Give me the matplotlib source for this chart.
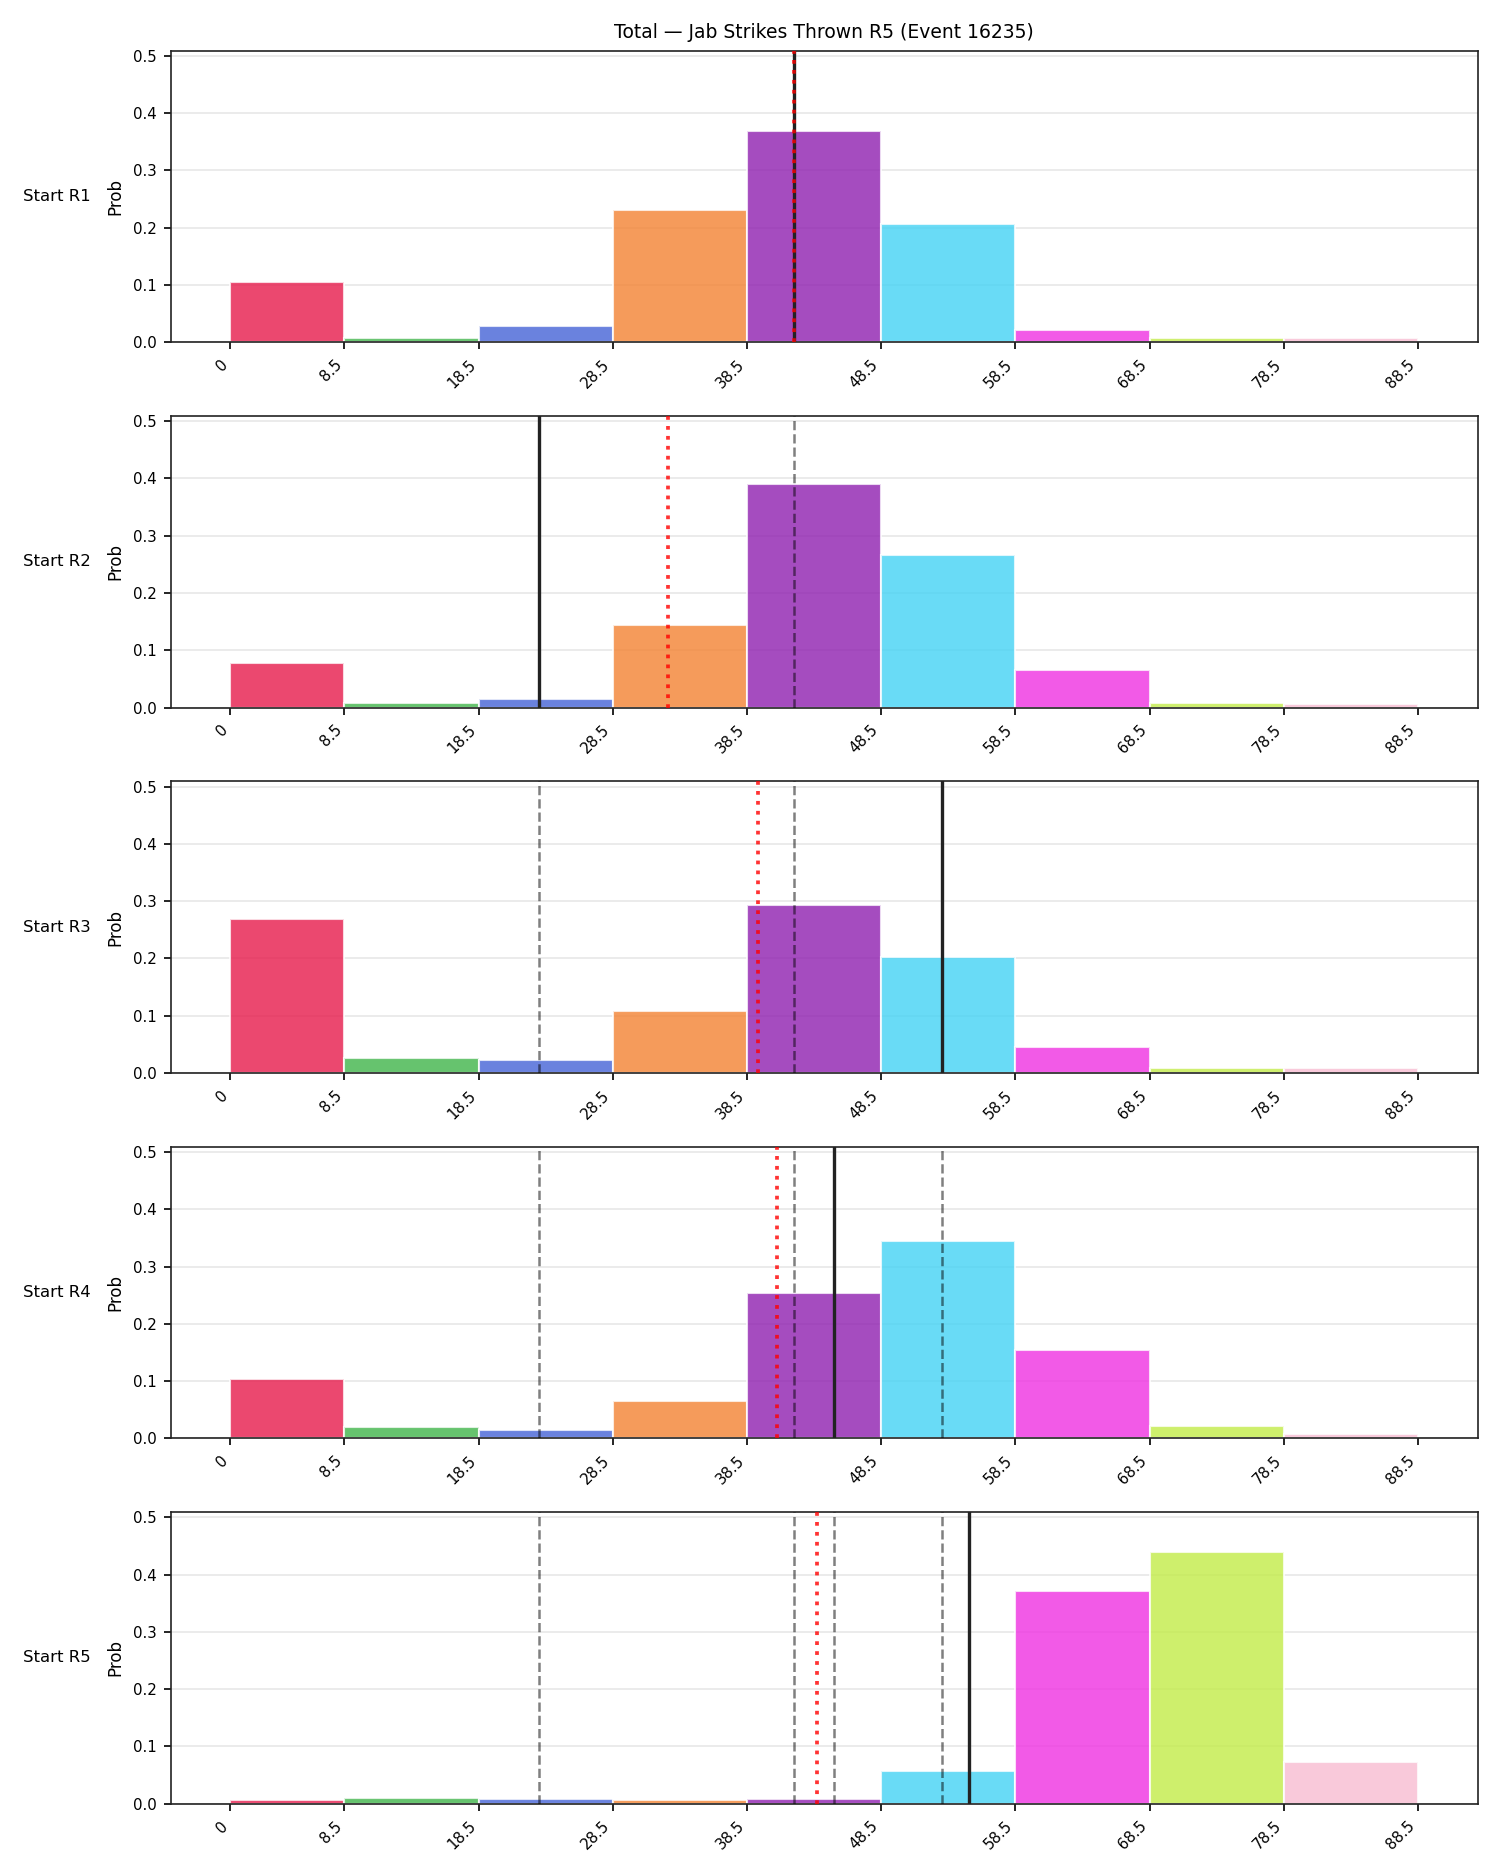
import numpy as np
import matplotlib
matplotlib.use("Agg")
import matplotlib.pyplot as plt

# bin edges and bar colours
bin_edges = [0, 8.5, 18.5, 28.5, 38.5, 48.5, 58.5, 68.5, 78.5, 88.5]
bin_colors = ['#E61A4B', '#40B54A', '#4563D6', '#F38232', '#8F1FAF',
              '#44D2F4', '#EF31E2', '#C2EC47', '#F8BCD1']

row_labels = ['Start R1', 'Start R2', 'Start R3', 'Start R4', 'Start R5']

probs_r1 = [0.106, 0.008, 0.028, 0.231, 0.369, 0.207, 0.022, 0.008, 0.008]
probs_r2 = [0.078, 0.008, 0.015, 0.144, 0.391, 0.266, 0.065, 0.008, 0.007]
probs_r3 = [0.269, 0.027, 0.023, 0.108, 0.293, 0.202, 0.046, 0.008, 0.008]
probs_r4 = [0.103, 0.019, 0.015, 0.065, 0.253, 0.345, 0.154, 0.021, 0.008]
probs_r5 = [0.006, 0.010, 0.008, 0.006, 0.008, 0.058, 0.371, 0.440, 0.073]
all_probs = [probs_r1, probs_r2, probs_r3, probs_r4, probs_r5]

# actual total after each round, and model mean at each start
actual_totals = [42, 23, 53, 45, 55]
model_means = [42.0, 32.6, 39.3, 40.7, 43.7]

title = "Total \u2014 Jab Strikes Thrown R5 (Event 16235)"


def draw_row(ax, i):
    probs = all_probs[i]
    lefts = bin_edges[:-1]
    widths = np.diff(bin_edges)
    ax.bar(lefts, probs, width=widths, align='edge', color=bin_colors,
           alpha=0.8, edgecolor='white', linewidth=1, zorder=2)

    # earlier rounds' totals
    for prev in actual_totals[:i]:
        ax.axvline(prev, color='black', alpha=0.5, linestyle='--', linewidth=1.2, zorder=3)
    ax.axvline(actual_totals[i], color='#222222', linewidth=1.6, zorder=4)
    ax.axvline(model_means[i], color='red', alpha=0.8, linestyle=':', linewidth=1.8, zorder=5)

    ax.set_ylim(0, 0.509)
    ax.set_xticks(bin_edges)
    ax.set_xticklabels([f'{e:g}' for e in bin_edges], rotation=45, ha='right', fontsize=7.2)
    ax.tick_params(axis='y', labelsize=7.2)
    ax.set_ylabel('Prob', fontsize=8)
    ax.grid(axis='y', alpha=0.3, zorder=0)
    ax.set_axisbelow(True)
    for s in ax.spines.values():
        s.set_color('#222222')


def main():
    fig, axs = plt.subplots(5, 1, figsize=(10, 12.5), dpi=150)
    fig.subplots_adjust(left=0.114, right=0.985, top=0.973, bottom=0.038, hspace=0.253)

    for i, ax in enumerate(axs):
        draw_row(ax, i)
        pos = ax.get_position()
        fig.text(0.0155, (pos.y0 + pos.y1) / 2, row_labels[i], ha='left', va='center', fontsize=7.9)

    axs[0].set_title(title, fontsize=9)
    fig.savefig('out.png', dpi=150)


if __name__ == "__main__":
    main()
